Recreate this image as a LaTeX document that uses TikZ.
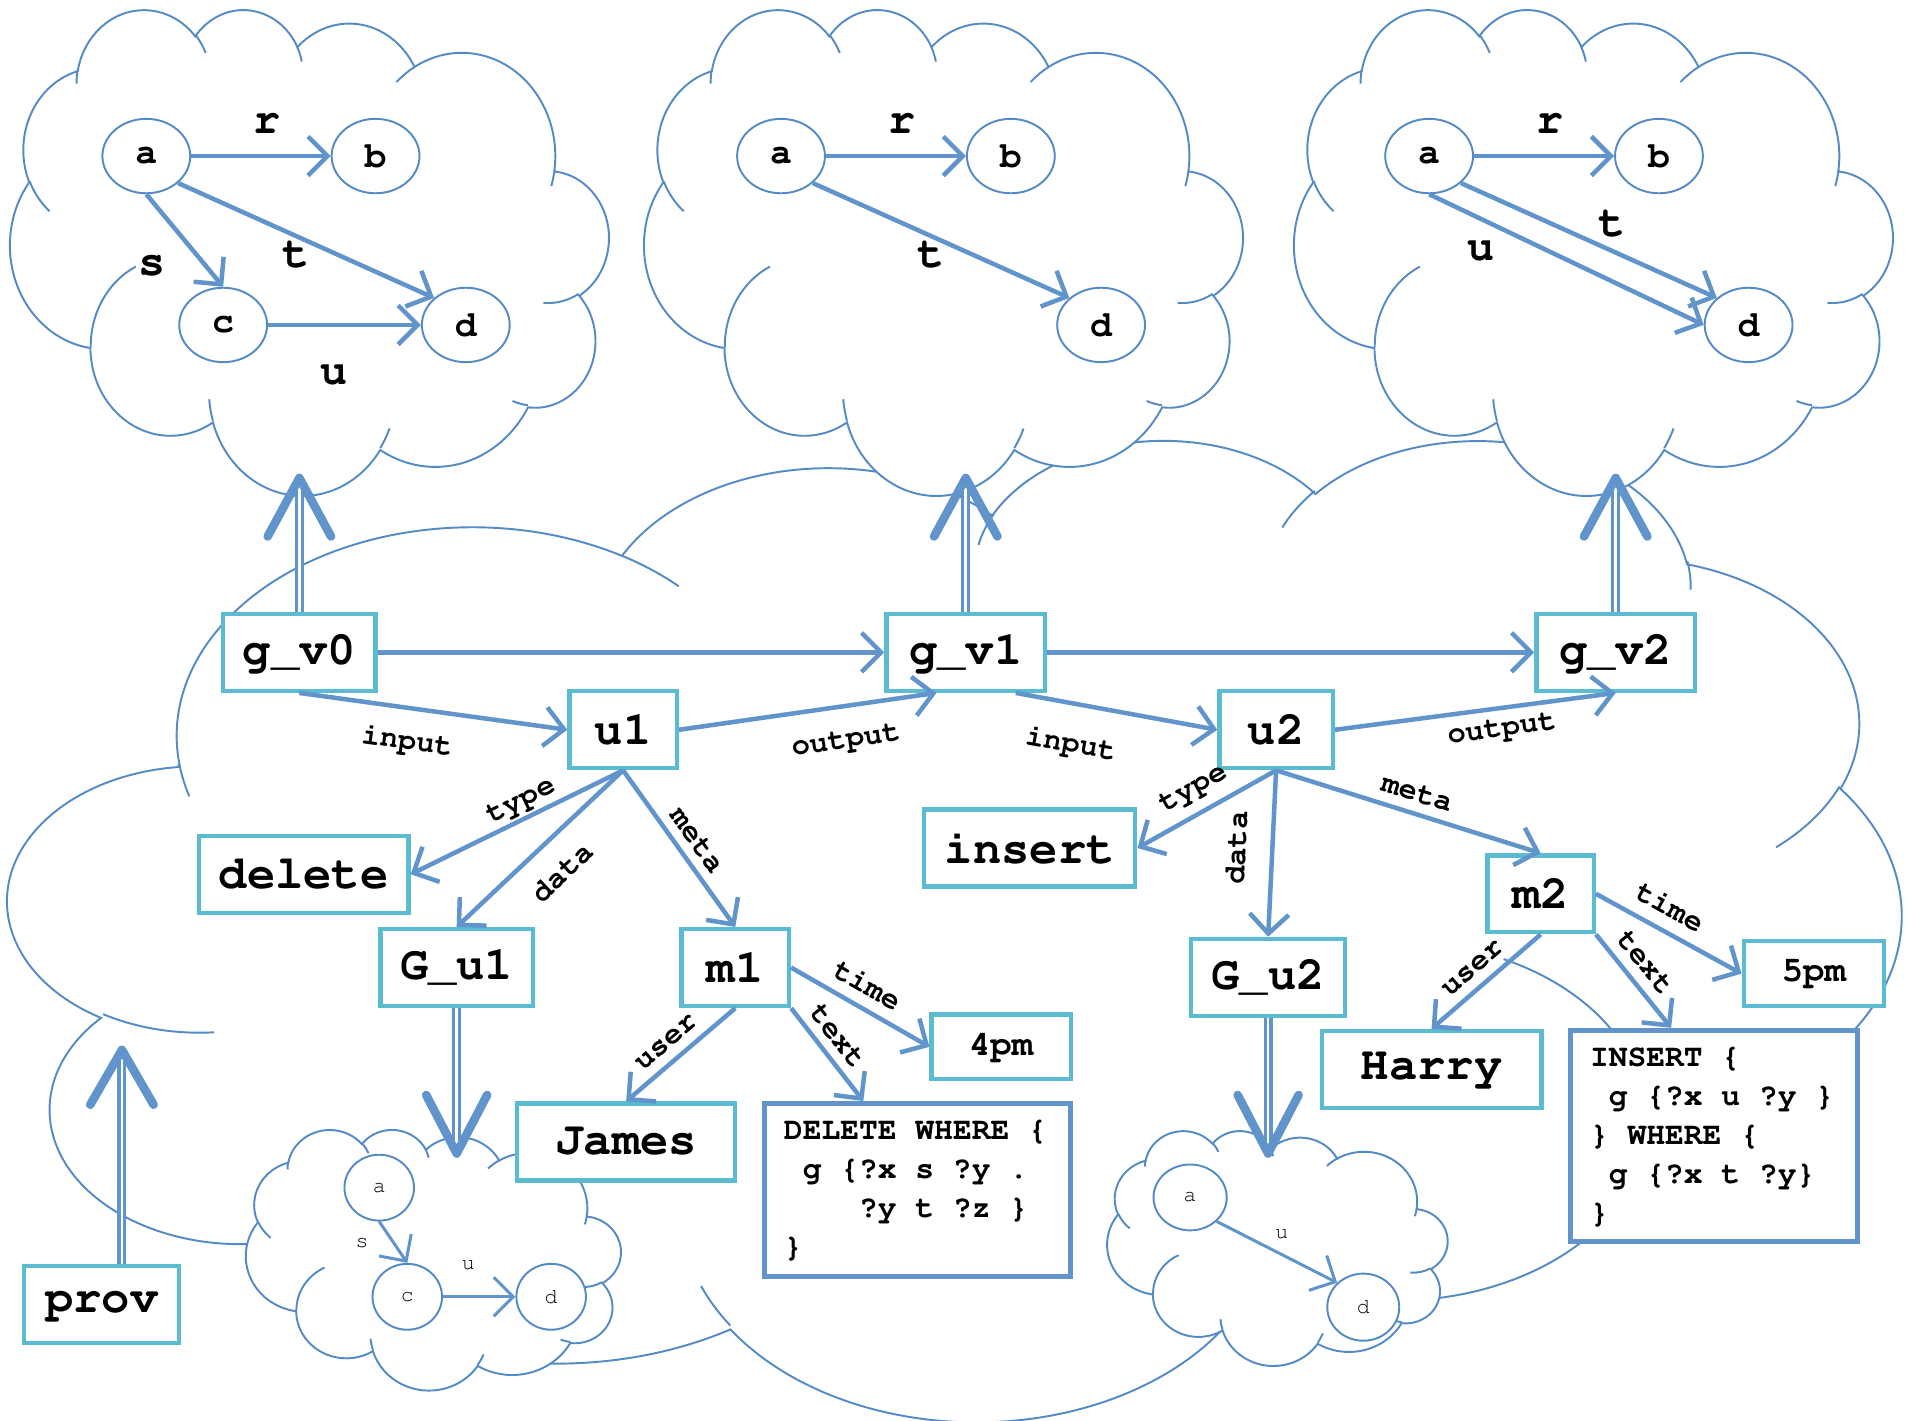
\documentclass[tikz,border=0pt]{standalone}
\usepackage[T1,TU]{fontenc}
\usepackage{tikz}
\usetikzlibrary{arrows.meta,shapes.geometric}

\definecolor{arrowblue}{RGB}{96,148,203}
\definecolor{boxteal}{RGB}{91,187,208}
\definecolor{cloudblue}{RGB}{84,138,198}

\newcommand\cour{\fontencoding{T1}\fontfamily{pcr}\selectfont}
\newcommand\codesp{\spaceskip=0.6em\relax}

\tikzset{
  cloudline/.style={draw=cloudblue, line width=0.45pt},
  box/.style={draw=boxteal, line width=1pt, fill=white, inner sep=0pt, minimum height=0.63cm,
    font=\cour\bfseries\fontsize{11}{13}\selectfont},
  smallbox/.style={box, minimum height=0.53cm, font=\cour\bfseries\fontsize{8.3}{10}\selectfont},
  qbox/.style={draw=arrowblue, line width=1.15pt, fill=white, align=left, inner xsep=0.16cm,
    font=\cour\bfseries\fontsize{7.3}{9.1}\selectfont},
  gnode/.style={ellipse, cloudline, fill=white, minimum width=0.72cm, minimum height=0.61cm,
    inner sep=0pt, font=\cour\bfseries\fontsize{8.5}{10}\selectfont},
  sgnode/.style={ellipse, cloudline, fill=white, minimum width=0.57cm, minimum height=0.54cm,
    inner sep=0pt, font=\cour\fontsize{5}{6}\selectfont},
  arr/.style={draw=arrowblue, line width=1.05pt, -{Straight Barb[length=1.6mm,width=3.2mm]}},
  sarr/.style={arr, line width=0.7pt},
  lab/.style={inner sep=1pt, sloped, font=\cour\bfseries\fontsize{7.1}{8}\selectfont},
  clab/.style={inner sep=1pt, font=\cour\bfseries\fontsize{10.5}{12}\selectfont},
  slab/.style={inner sep=1pt, font=\cour\fontsize{5}{6}\selectfont},
  dbl/.style={draw=arrowblue, line width=0.75pt, double=white, double distance=0.6pt},
  vhead/.style={draw=arrowblue, line width=2pt, line cap=round, line join=round},
}

% cloud outline and its inner strokes, laid out in a 432 x 432 box
% #1,#2 corner, #3 width, #4 height, #5 = 1 or -1 (mirror)
\newcommand\ppcloud[5]{%
  \pgfmathsetmacro\cloudx{#1+(1-#5)/2*#3}%
  \pgfmathsetmacro\cloudsx{#5*#3/432*0.01}%
  \pgfmathsetmacro\cloudsy{#4/432*0.01}%
  \begin{scope}[shift={(\cloudx,#2)}, x=\cloudsx cm, y=-\cloudsy cm]
    \filldraw[cloudline, fill=white] (39,143.7)
      arc[start angle=172.25, end angle=300.36, x radius=67.53, y radius=91.9]
      arc[start angle=-152.05, end angle=-45.44, x radius=53.33, y radius=72.67]
      arc[start angle=-153.5, end angle=-37.33, x radius=43.65, y radius=59.45]
      arc[start angle=-139.71, end angle=-10.21, x radius=48.57, y radius=65.95]
      arc[start angle=-74.77, end angle=23.21, x radius=53.33, y radius=72.73]
      arc[start angle=-37.5, end angle=81.86, x radius=67.75, y radius=92.2]
      arc[start angle=0.46, end angle=121.97, x radius=57.85, y radius=78.67]
      arc[start angle=16.84, end angle=146.23, x radius=67.52, y radius=92.15]
      arc[start angle=58.98, end angle=150.19, x radius=77.2, y radius=105.43]
      arc[start angle=83.31, end angle=223.1, x radius=43.6, y radius=59.18]
      arc[start angle=120.36, end angle=264.11, x radius=43.45, y radius=59.45]
      -- cycle;
    \draw[cloudline]
      (46.93,261.77) arc[start angle=85.55, end angle=120.36, x radius=43.45, y radius=59.45]
      (69.28,348.99) arc[start angle=68.23, end angle=83.31, x radius=43.6, y radius=59.18]
      (164.78,390.9) arc[start angle=146.23, end angle=158.47, x radius=67.52, y radius=92.15]
      (288.27,347.51) arc[start angle=4.74, end angle=16.84, x radius=67.52, y radius=92.15]
      (341.29,229.54) arc[start angle=-64.03, end angle=0.46, x radius=57.85, y radius=78.67]
      (417.98,153.54) arc[start angle=23.21, end angle=49.65, x radius=53.33, y radius=72.73]
      (383.24,54.26) arc[start angle=-10.21, end angle=0.82, x radius=48.57, y radius=65.95]
      (290.78,39.52) arc[start angle=-156.28, end angle=-139.71, x radius=48.57, y radius=65.95]
      (221.41,47.2) arc[start angle=-167.73, end angle=-153.5, x radius=43.65, y radius=59.45]
      (140,51.92) arc[start angle=-59.64, end angle=-45.72, x radius=67.53, y radius=91.9]
      (41.27,157.89) arc[start angle=163.19, end angle=172.25, x radius=67.53, y radius=91.9];
  \end{scope}}

\begin{document}
\begin{tikzpicture}[x=0.01cm, y=-0.01cm]
\useasboundingbox (0,0) rectangle (1568,1165);

\ppcloud{7}{359}{1552}{805}{1}
\ppcloud{8}{7}{491}{399}{-1}
\ppcloud{528}{7}{491}{399}{-1}
\ppcloud{1061}{7}{491}{399}{-1}
\ppcloud{201}{926}{308}{214}{-1}
\ppcloud{908}{927}{279}{193}{-1}

\node[gnode] (a0) at (120,128) {a};
\node[gnode] (b0) at (308,128) {b};
\node[gnode] (c0) at (183,266.5) {c};
\node[gnode] (d0) at (382,266.5) {d};
\draw[arr] (a0) -- node[clab, pos=.54, above=1.35mm] {r} (b0);
\draw[arr] (a0.south) -- node[clab, pos=.77, left=2.7mm] {s} (c0.north);
\draw[arr] (a0.south east) -- node[clab, pos=.46, below=0mm] {t} (d0.north west);
\draw[arr] (c0) -- node[clab, pos=.43, below=2.7mm] {u} (d0);

\node[gnode] (a1) at (640.5,128) {a};
\node[gnode] (b1) at (829,128) {b};
\node[gnode] (d1) at (903,266.5) {d};
\draw[arr] (a1) -- node[clab, pos=.54, above=1.35mm] {r} (b1);
\draw[arr] (a1.south east) -- node[clab, pos=.46, below=0mm] {t} (d1.north west);

\node[gnode] (a2) at (1172,128) {a};
\node[gnode] (b2) at (1360.5,128) {b};
\node[gnode] (d2) at (1434,266.5) {d};
\draw[arr] (a2) -- node[clab, pos=.54, above=1.35mm] {r} (b2);
\draw[arr] (a2.south east) -- node[clab, pos=.59, above=0.6mm] {t} (d2.north west);
\draw[arr] (a2.south) -- node[clab, pos=.19, below=1.2mm] {u} (d2.west);

\node[sgnode] (sa1) at (311,974) {a};
\node[sgnode] (sc1) at (334,1063.5) {c};
\node[sgnode] (sd1) at (452,1063.5) {d};
\draw[sarr] (sa1.south) -- node[slab, pos=.52, left=1.6mm] {s} (sc1.north);
\draw[sarr] (sc1) -- node[slab, pos=.35, above=1.7mm] {u} (sd1);

\node[sgnode, minimum width=0.6cm] (sa2) at (976,982) {a};
\node[sgnode, minimum width=0.59cm, minimum height=0.55cm] (sd2) at (1118,1072) {d};
\draw[sarr] (sa2.south east) -- node[slab, pos=.54, above=0.85mm] {u} (sd2.north west);

\node[box, minimum width=1.25cm] (gv0) at (245.5,535) {g\_v0};
\node[box, minimum width=1.3cm] (gv1) at (792,535) {g\_v1};
\node[box, minimum width=1.3cm] (gv2) at (1325,535) {g\_v2};
\node[box, minimum width=0.88cm] (u1) at (511,598.5) {u1};
\node[box, minimum width=0.93cm] (u2) at (1046.5,598.5) {u2};
\node[box, minimum width=1.72cm] (del) at (249,717) {delete};
\node[box, minimum width=1.73cm] (ins) at (844.5,695.5) {insert};
\node[box, minimum width=1.25cm] (gu1) at (374.5,793.5) {G\_u1};
\node[box, minimum width=0.88cm] (m1) at (603,793.5) {m1};
\node[box, minimum width=1.26cm] (gu2) at (1040,801.5) {G\_u2};
\node[box, minimum width=0.87cm] (m2) at (1263.5,733) {m2};
\node[smallbox, minimum width=1.14cm] (pm4) at (821,858.5) {4pm};
\node[smallbox, minimum width=1.15cm] (pm5) at (1487.5,798.5) {5pm};
\node[box, minimum width=1.79cm] (james) at (513.5,936.5) {James};
\node[box, minimum width=1.8cm] (harry) at (1174,877) {Harry};
\node[box, minimum width=1.27cm] (prov) at (83.5,1070) {prov};
\node[qbox, minimum width=2.51cm, minimum height=1.42cm, text width=2.19cm] (dq) at (752.5,976)
  {\codesp DELETE WHERE \{\\\phantom{x}g \{?x s ?y .\\\phantom{xxxx}?y t ?z \}\\\}};
\node[qbox, minimum width=2.35cm, minimum height=1.73cm, text width=2.03cm] (iq) at (1405.5,931.5)
  {\codesp INSERT \{\\\phantom{x}g \{?x u ?y \}\\\} WHERE \{\\\phantom{x}g \{?x t ?y\}\\\}};

\draw[arr] (gv0) -- (gv1);
\draw[arr] (gv1) -- (gv2);
\draw[arr] (gv0.south) -- node[lab, pos=.42, below=1.2mm] {input} (u1.west);
\draw[arr] (u1.east) -- node[lab, pos=.63, below=1.5mm] {output} ([xshift=-0.24cm]gv1.south);
\draw[arr] ([xshift=0.41cm]gv1.south) -- node[lab, pos=.31, below=1.8mm] {input} (u2.west);
\draw[arr] (u2.east) -- node[lab, pos=.585, below=0.4mm] {output} (gv2.south);
\draw[arr] (u1.south) -- node[lab, pos=.445, above=0mm] {type} (del.east);
\draw[arr] (u1.south) -- node[lab, pos=.5, below=1.3mm] {data} (gu1.north);
\draw[arr] (u1.south) -- node[lab, pos=.52, above=0.3mm] {meta} (m1.north);
\draw[arr] (m1.south) -- node[lab, pos=.52, above=0.4mm] {user} (james.north);
\draw[arr] (m1.south east) -- node[lab, pos=.43, above=0.3mm] {text} ([xshift=-0.445cm]dq.north);
\draw[arr] (m1.east) -- node[lab, pos=.47, above=0.5mm] {time} (pm4.west);
\draw[arr] (u2.south) -- node[lab, pos=.51, above=0.6mm] {type} (ins.east);
\draw[arr] (u2.south) -- node[lab, pos=.475, above=1.6mm] {data} (gu2.north);
\draw[arr] (u2.south) -- node[lab, pos=.51, above=0.4mm] {meta} (m2.north);
\draw[arr] (m2.south) -- node[lab, pos=.51, above=0.4mm] {user} (harry.north);
\draw[arr] (m2.south east) -- node[lab, pos=.44, above=0.4mm] {text} ([xshift=-0.35cm]iq.north);
\draw[arr] (m2.east) -- node[lab, pos=.43, above=0.6mm] {time} (pm5.west);

\coordinate (up0) at (245.5,392);
\coordinate (up1) at (792,392);
\coordinate (up2) at (1325,392);
\coordinate (dn1) at (374.5,946);
\coordinate (dn2) at (1040,946);
\coordinate (upp) at (100,861);
\draw[dbl] (gv0.north) -- (up0);
\draw[dbl] (gv1.north) -- (up1);
\draw[dbl] (gv2.north) -- (up2);
\draw[dbl] (gu1.south) -- (dn1);
\draw[dbl] (gu2.south) -- (dn2);
\draw[dbl] (prov.north -| upp) -- (upp);
\draw[vhead] ([shift={(-26,48)}]up0) -- (up0) -- ([shift={(26,48)}]up0);
\draw[vhead] ([shift={(-26,48)}]up1) -- (up1) -- ([shift={(26,48)}]up1);
\draw[vhead] ([shift={(-26,48)}]up2) -- (up2) -- ([shift={(26,48)}]up2);
\draw[vhead] ([shift={(-25,-48)}]dn1) -- (dn1) -- ([shift={(25,-48)}]dn1);
\draw[vhead] ([shift={(-25,-48)}]dn2) -- (dn2) -- ([shift={(25,-48)}]dn2);
\draw[vhead] ([shift={(-26,45)}]upp) -- (upp) -- ([shift={(26,45)}]upp);

\end{tikzpicture}
\end{document}
